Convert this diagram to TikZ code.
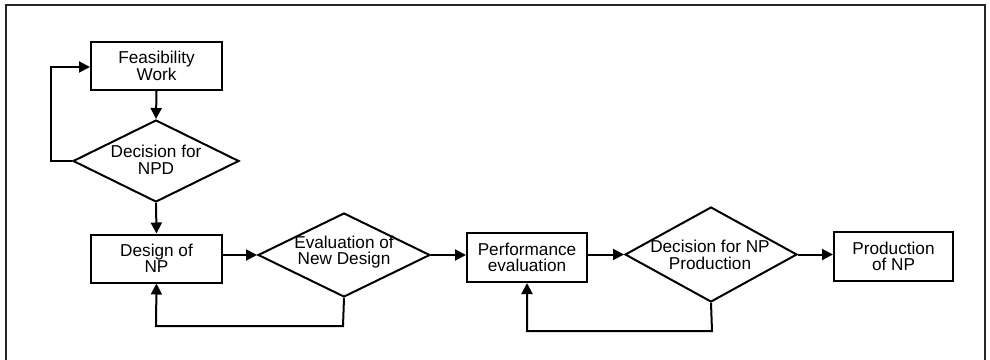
\documentclass[tikz,border=0pt]{standalone}
\usepackage{fontspec}
\setmainfont{Liberation Sans}
\usetikzlibrary{shapes.geometric,arrows.meta}
\begin{document}
\begin{tikzpicture}[x=1pt,y=-1pt,
  every node/.style={font=\fontsize{17.2}{16.5}\selectfont, align=center},
  procbox/.style={draw, line width=2pt, minimum width=131pt, minimum height=48pt, inner sep=0pt},
  decide/.style={draw, diamond, line width=2pt, inner sep=0pt},
  flow/.style={line width=2pt, -{Triangle[length=11pt,width=11pt]}},
  plain/.style={line width=2pt}]
  \useasboundingbox (0,0) rectangle (990,359);
  % outer frame
  \draw[line width=2pt, black!85] (6,5) rectangle (985,380);

  % nodes
  \node[procbox] (feas) at (156.5,66) {Feasibility\\Work};
  \node[decide, minimum width=166pt, minimum height=82pt] (npd) at (156,161) {};
  \node (npdtxt) at (156,160) {Decision for\\NPD};
  \node[procbox] (design) at (156.5,258.5) {Design of\\NP};
  \node[decide, minimum width=172pt, minimum height=84pt] (eval) at (344,255) {};
  \node (evaltxt) at (344,252) {Evaluation of\\New Design};
  \node[procbox, minimum width=120pt, minimum height=49pt] (perf) at (527,257.5) {Performance\\evaluation};
  \node[decide, minimum width=172pt, minimum height=95pt] (npprod) at (711,254.5) {};
  \node (npprodtxt) at (710,255) {Decision for NP\\Production};
  \node[procbox, minimum width=119pt, minimum height=49pt] (prod) at (893.5,256.5) {Production\\of NP};

  % loop corners
  \coordinate (c1) at (51,161);
  \coordinate (c2) at (51,67);
  \coordinate (c3) at (343,326);
  \coordinate (c4) at (156,326);
  \coordinate (c5) at (712,331);
  \coordinate (c6) at (527,331);

  % connectors
  \draw[flow] (feas.south) -- (npd.north);
  \draw[flow] (npd.south) -- (design.north);
  \draw[flow] (npd.west) -- (c1) -- (c2) -- (feas.west |- c2);
  \draw[flow] (design.east |- eval.west) -- (eval.west);
  \draw[flow] (eval.east) -- (perf.west |- eval.east);
  \draw[flow] (perf.east |- npprod.west) -- (npprod.west);
  \draw[flow] (npprod.east) -- (prod.west |- npprod.east);
  \draw[flow] (eval.south) -- (c3) -- (c4) -- (design.south);
  \draw[flow] (npprod.south) -- (c5) -- (c6) -- (perf.south);
\end{tikzpicture}
\end{document}
